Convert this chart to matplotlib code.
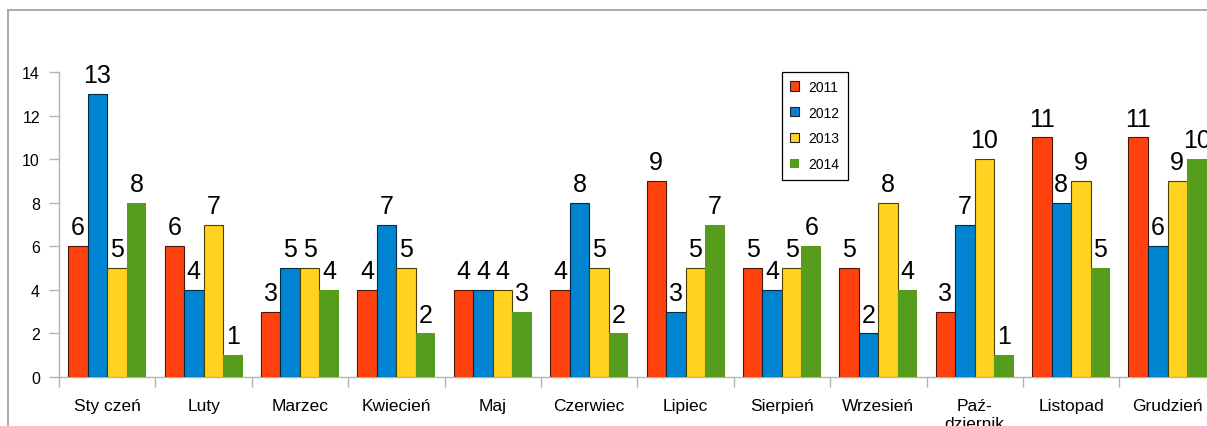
import matplotlib
matplotlib.use("Agg")
import matplotlib.pyplot as plt
from matplotlib.lines import Line2D
from matplotlib.patches import Patch
import numpy as np

plt.rcParams['font.family'] = ['Liberation Sans', 'DejaVu Sans']

months = ["Sty czeń", "Luty", "Marzec", "Kwiecień", "Maj", "Czerwiec", "Lipiec",
          "Sierpień", "Wrzesień", "Paź-\ndziernik", "Listopad", "Grudzień"]
series_names = ["2011", "2012", "2013", "2014"]
v2011 = [6, 6, 3, 4, 4, 4, 9, 5, 5, 3, 11, 11]
v2012 = [13, 4, 5, 7, 4, 8, 3, 4, 2, 7, 8, 6]
v2013 = [5, 7, 5, 5, 4, 5, 5, 5, 8, 10, 9, 9]
v2014 = [8, 1, 4, 2, 3, 2, 7, 6, 4, 1, 5, 10]
yticks = [0, 2, 4, 6, 8, 10, 12, 14]

values = [v2011, v2012, v2013, v2014]
colors = ["#ff420e", "#0084d1", "#ffd320", "#579d1c"]
edges = ["#4a1505", "#002a45", "#4d4000", "none"]

W, H = 1207, 427
fig = plt.figure(figsize=(W / 100, H / 100), dpi=100)
ax = fig.add_axes([59 / W, (H - 378) / H, (1215.7 - 59) / W, (378 - 73) / H])

x = np.arange(len(months))
bw = 0.2025
for i, (vals, c, ec) in enumerate(zip(values, colors, edges)):
    pos = x + (i - 1.5) * bw
    ax.bar(pos, vals, width=bw, color=c, edgecolor=ec,
           linewidth=0.8 if ec != "none" else 0, label=series_names[i], zorder=3)
    for px, v in zip(pos, vals):
        ax.annotate(str(v), (px, v), xytext=(0, 8.5), textcoords="offset points",
                    ha="center", va="baseline", fontsize=18, color="black",
                    annotation_clip=False, zorder=4)

ax.set_xlim(-0.5, len(months) - 0.5)
ax.set_ylim(0, 14)
ax.set_yticks(yticks)
ax.set_yticklabels([str(t) for t in yticks])
ax.set_xticks(x)
ax.set_xticklabels(months, fontsize=12.5, linespacing=1.25)
ax.set_xticks(np.arange(-0.5, len(months), 1.0), minor=True)
ax.tick_params(axis="x", which="major", length=0, pad=15)
ax.tick_params(axis="x", which="minor", length=7.2, width=1, color="#b3b3b3")
ax.tick_params(axis="y", length=7.2, width=1, color="#b3b3b3", labelsize=11.5, pad=6.5)
for s in ["top", "right"]:
    ax.spines[s].set_visible(False)
for s in ["left", "bottom"]:
    ax.spines[s].set_color("#b3b3b3")
    ax.spines[s].set_linewidth(1)

handles = [Patch(facecolor=c, edgecolor=("#222222" if ec != "none" else "none"), linewidth=0.8)
           for c, ec in zip(colors, edges)]
leg = fig.legend(handles, series_names, loc="upper left",
                 bbox_to_anchor=(782 / W, 1 - 72.5 / H), bbox_transform=fig.transFigure,
                 borderaxespad=0, fontsize=10, frameon=True, fancybox=False,
                 framealpha=1, edgecolor="black", handlelength=0.65, handleheight=0.65,
                 handletextpad=0.65, labelspacing=0.85, borderpad=0.6)
leg.get_frame().set_linewidth(0.9)

# outer chart border (partially visible)
fig.add_artist(Line2D([7.5 / W, 1.0], [1 - 10.5 / H, 1 - 10.5 / H],
                      transform=fig.transFigure, color="#aaaaaa", lw=1.4))
fig.add_artist(Line2D([7.5 / W, 7.5 / W], [0, 1 - 10.5 / H],
                      transform=fig.transFigure, color="#aaaaaa", lw=1.4))

fig.savefig("out.png", dpi=100)
